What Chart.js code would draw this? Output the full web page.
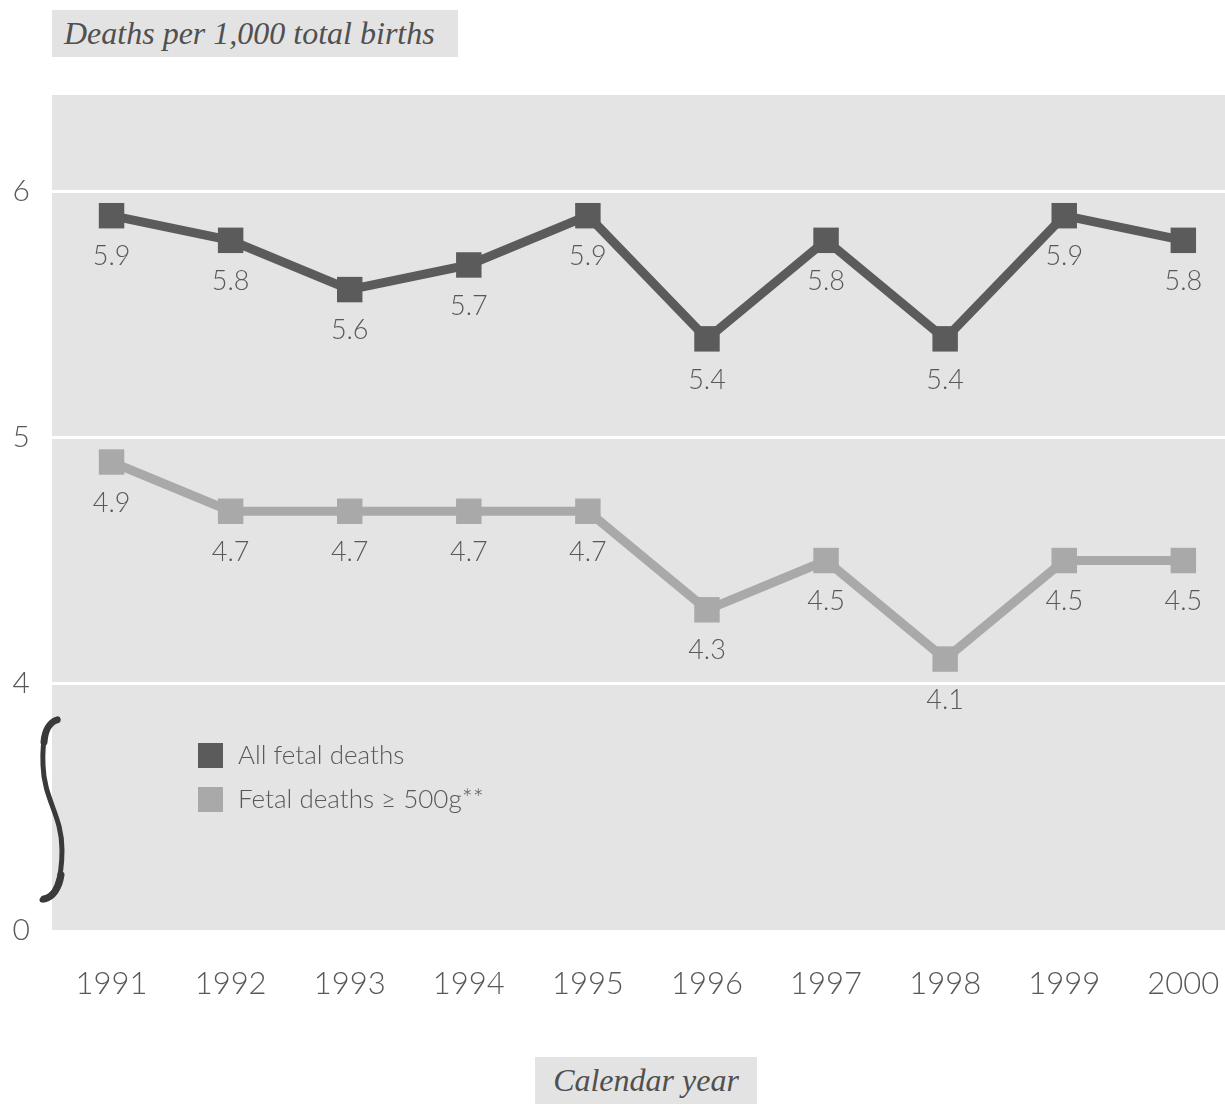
<!DOCTYPE html>
<html>
<head>
<meta charset="utf-8">
<script src="https://cdn.jsdelivr.net/npm/chart.js@4"></script>
<style>
  html, body { margin: 0; padding: 0; background: #ffffff; overflow: hidden; }
  #wrap { position: relative; width: 1225px; height: 1104px; }
  canvas { position: absolute; left: 0; top: 0; }
  .tag {
    position: absolute;
    background: #e3e3e3;
    color: #505050;
    font-family: "Liberation Serif", "DejaVu Serif", serif;
    font-style: italic;
    font-size: 32px;
    line-height: 47px;
    height: 47px;
    white-space: nowrap;
  }
  #yTitle { left: 52px; top: 10px; width: 394px; padding-left: 12px; }
  #xTitle { left: 535px; top: 1057px; width: 222px; text-align: center; }
</style>
</head>
<body>
<div id="wrap">
  <canvas id="c" width="1225" height="1104"></canvas>
  <div class="tag" id="yTitle">Deaths per 1,000 total births</div>
  <div class="tag" id="xTitle">Calendar year</div>
</div>
<script>
// Calendar years on the horizontal axis
const years = [1991, 1992, 1993, 1994, 1995, 1996, 1997, 1998, 1999, 2000];

// Deaths per 1,000 total births
const allFetalDeaths = [5.9, 5.8, 5.6, 5.7, 5.9, 5.4, 5.8, 5.4, 5.9, 5.8];
const fetalDeaths500g = [4.9, 4.7, 4.7, 4.7, 4.7, 4.3, 4.5, 4.1, 4.5, 4.5];

// Vertical axis is broken: the value 3 on the scale stands for 0
const yTickValues = [3, 4, 5, 6];
const yTickLabels = ['0', '4', '5', '6'];

const seriesNames = ['All fetal deaths', 'Fetal deaths \u2265 500g**'];

const FONT = 'Lato, "Noto Sans", sans-serif';
const TEXT = '#585858';
const DARK = '#5b5b5b';
const LIGHT = '#a9a9a9';

const plotBackground = {
  id: 'plotBackground',
  beforeDraw(chart) {
    const { ctx, chartArea: a } = chart;
    ctx.save();
    ctx.fillStyle = '#e4e4e4';
    ctx.fillRect(a.left, a.top, a.right - a.left, a.bottom - a.top);
    ctx.restore();
  }
};

const pointValues = {
  id: 'pointValues',
  afterDatasetsDraw(chart) {
    const { ctx } = chart;
    ctx.save();
    ctx.font = '300 27px ' + FONT;
    ctx.fillStyle = TEXT;
    ctx.textAlign = 'center';
    ctx.textBaseline = 'middle';
    chart.data.datasets.forEach((ds, i) => {
      chart.getDatasetMeta(i).data.forEach((pt, j) => {
        ctx.fillText(ds.data[j].y.toFixed(1), pt.x, pt.y + 41);
      });
    });
    ctx.restore();
  }
};

const insetLegend = {
  id: 'insetLegend',
  afterDraw(chart) {
    const { ctx } = chart;
    ctx.save();
    ctx.font = '300 26px ' + FONT;
    ctx.textBaseline = 'middle';
    chart.data.datasets.forEach((ds, i) => {
      const top = 743 + i * 44;
      ctx.fillStyle = ds.pointBackgroundColor;
      ctx.fillRect(198, top, 25, 25);
      ctx.fillStyle = TEXT;
      ctx.fillText(ds.label, 238, top + 13);
    });
    ctx.restore();
  }
};

// Scale-break mark between 0 and 4 on the vertical axis
const axisBreak = {
  id: 'axisBreak',
  afterDraw(chart) {
    const { ctx } = chart;
    ctx.save();
    ctx.strokeStyle = '#3a3a3a';
    ctx.lineCap = 'round';
    ctx.lineWidth = 5;
    ctx.beginPath();
    ctx.moveTo(58, 719);
    ctx.bezierCurveTo(46, 722, 42, 740, 43, 765);
    ctx.bezierCurveTo(44, 800, 62, 815, 62, 850);
    ctx.bezierCurveTo(62, 880, 55, 898, 42, 900);
    ctx.stroke();
    // heavier hooks at both ends
    ctx.lineWidth = 7;
    ctx.beginPath();
    ctx.moveTo(57, 720);
    ctx.bezierCurveTo(50, 722, 45, 730, 44, 742);
    ctx.stroke();
    ctx.beginPath();
    ctx.moveTo(61, 875);
    ctx.bezierCurveTo(59, 888, 53, 897, 44, 899);
    ctx.stroke();
    ctx.restore();
  }
};

const toPoints = vals => vals.map((v, i) => ({ x: years[i], y: v }));

new Chart(document.getElementById('c'), {
  type: 'line',
  data: {
    datasets: [
      {
        label: seriesNames[0],
        data: toPoints(allFetalDeaths),
        borderColor: DARK,
        backgroundColor: DARK,
        pointBackgroundColor: DARK,
        pointBorderWidth: 0,
        borderWidth: 9,
        pointStyle: 'rect',
        pointRadius: 18,
        tension: 0
      },
      {
        label: seriesNames[1],
        data: toPoints(fetalDeaths500g),
        borderColor: LIGHT,
        backgroundColor: LIGHT,
        pointBackgroundColor: LIGHT,
        pointBorderWidth: 0,
        borderWidth: 9,
        pointStyle: 'rect',
        pointRadius: 18,
        tension: 0
      }
    ]
  },
  options: {
    responsive: false,
    animation: false,
    devicePixelRatio: 1,
    layout: { autoPadding: false, padding: { top: 95, right: 0, bottom: 0, left: 0 } },
    plugins: {
      legend: { display: false },
      tooltip: { enabled: false }
    },
    scales: {
      x: {
        type: 'linear',
        min: 1990.5,
        max: 2000.35,
        afterBuildTicks(scale) { scale.ticks = years.map(v => ({ value: v })); },
        afterFit(scale) {
          scale.height = 174;
          scale.paddingLeft = 0;
          scale.paddingRight = 0;
        },
        grid: { display: false },
        border: { display: false },
        ticks: {
          padding: 27,
          color: TEXT,
          font: { family: FONT, size: 31, weight: '300' },
          callback: v => String(v),
          maxRotation: 0
        }
      },
      y: {
        type: 'linear',
        min: 3,
        max: 6.39,
        afterBuildTicks(scale) { scale.ticks = yTickValues.map(v => ({ value: v })); },
        afterFit(scale) {
          scale.width = 52;
          scale.paddingTop = 0;
          scale.paddingBottom = 0;
        },
        grid: {
          color: ctx => (ctx.tick && ctx.tick.value === 3) ? 'rgba(0,0,0,0)' : '#ffffff',
          lineWidth: 3,
          drawTicks: false
        },
        border: { display: false },
        ticks: {
          padding: 22,
          color: TEXT,
          font: { family: FONT, size: 30, weight: '300' },
          callback: v => yTickLabels[yTickValues.indexOf(v)]
        }
      }
    }
  },
  plugins: [plotBackground, pointValues, insetLegend, axisBreak]
});
</script>
</body>
</html>
